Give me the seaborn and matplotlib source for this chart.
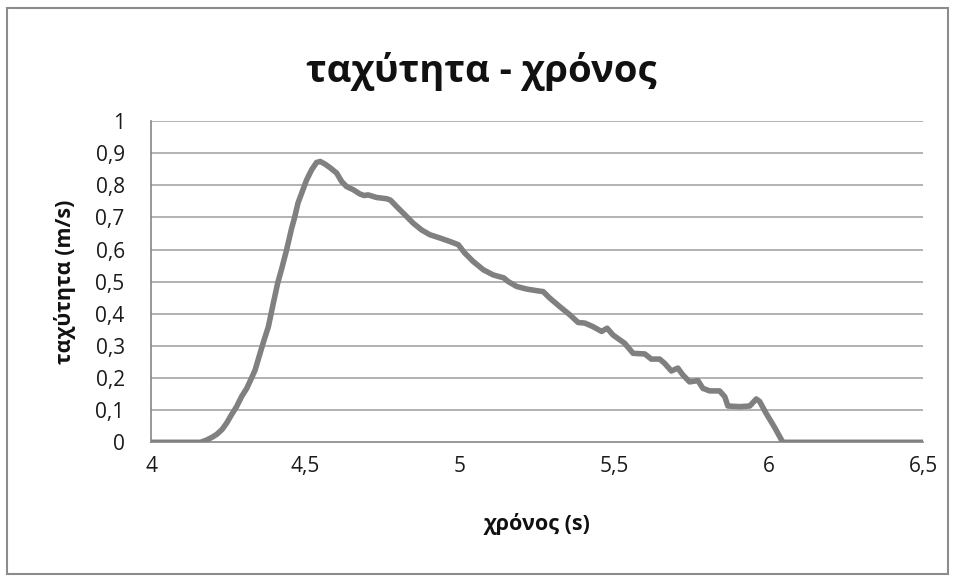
import matplotlib
matplotlib.use("Agg")
import matplotlib.pyplot as plt
import matplotlib.patches as mpatches
import seaborn as sns
import pandas as pd

# Measured speed of the cart over time
time_s = [
    4.00, 4.16, 4.18, 4.20, 4.213, 4.23, 4.245, 4.26, 4.277, 4.293,
    4.31, 4.323, 4.337, 4.353, 4.365, 4.38, 4.396, 4.41, 4.423, 4.439,
    4.455, 4.465, 4.476, 4.488, 4.504, 4.52, 4.536, 4.548, 4.563, 4.578,
    4.601, 4.617, 4.633, 4.655, 4.676, 4.69, 4.703, 4.73, 4.763, 4.775,
    4.795, 4.817, 4.849, 4.876, 4.903, 4.935, 4.968, 4.995, 5.016, 5.043,
    5.076, 5.108, 5.13, 5.142, 5.157, 5.184, 5.216, 5.248, 5.27, 5.291,
    5.324, 5.356, 5.383, 5.405, 5.431, 5.459, 5.477, 5.496, 5.534, 5.561,
    5.599, 5.62, 5.647, 5.663, 5.685, 5.706, 5.722, 5.744, 5.771, 5.787,
    5.809, 5.841, 5.858, 5.868, 5.906, 5.939, 5.96, 5.971, 5.992, 6.019,
    6.046, 6.50,
]
speed_ms = [
    0.0, 0.0, 0.007, 0.017, 0.025, 0.04, 0.06, 0.085, 0.111, 0.142,
    0.168, 0.195, 0.225, 0.277, 0.315, 0.36, 0.433, 0.495, 0.54, 0.599,
    0.665, 0.70, 0.745, 0.776, 0.817, 0.848, 0.871, 0.874, 0.866, 0.856,
    0.838, 0.812, 0.796, 0.786, 0.773, 0.768, 0.770, 0.762, 0.758, 0.754,
    0.734, 0.713, 0.682, 0.661, 0.646, 0.636, 0.625, 0.615, 0.589, 0.563,
    0.537, 0.521, 0.515, 0.512, 0.500, 0.485, 0.477, 0.472, 0.469, 0.449,
    0.422, 0.397, 0.373, 0.371, 0.360, 0.345, 0.355, 0.334, 0.308, 0.277,
    0.275, 0.259, 0.259, 0.246, 0.222, 0.231, 0.210, 0.188, 0.192, 0.168,
    0.160, 0.160, 0.142, 0.113, 0.111, 0.113, 0.135, 0.127, 0.090, 0.047,
    0.0, 0.0,
]

x_ticks = [4.0, 4.5, 5.0, 5.5, 6.0, 6.5]
x_tick_labels = ["4", "4,5", "5", "5,5", "6", "6,5"]
y_ticks = [0.0, 0.1, 0.2, 0.3, 0.4, 0.5, 0.6, 0.7, 0.8, 0.9, 1.0]
y_tick_labels = ["0", "0,1", "0,2", "0,3", "0,4", "0,5", "0,6", "0,7", "0,8", "0,9", "1"]

title_text = "ταχύτητα - χρόνος"
x_label = "χρόνος (s)"
y_label = "ταχύτητα (m/s)"

sns.set_style("white")
plt.rcParams["font.family"] = ["Open Sans", "DejaVu Sans"]

df = pd.DataFrame({"t": time_s, "v": speed_ms})

fig = plt.figure(figsize=(9.56, 5.8), dpi=100)
ax = fig.add_axes([0.158, 0.2374, 0.8075, 0.554])

# chart frame
fig.patches.append(mpatches.Rectangle(
    (7 / 956, 6 / 580), 941 / 956, 566 / 580, transform=fig.transFigure,
    fill=False, edgecolor="#8c8c8c", linewidth=1.5))

grid_color = "#a6a6a6"
for yv in y_ticks[1:]:
    ax.axhline(yv, color=grid_color, linewidth=1.2, zorder=1)

sns.lineplot(data=df, x="t", y="v", sort=False, estimator=None,
             color="#808080", linewidth=4.0, ax=ax, zorder=3)
for ln in ax.lines[-1:]:
    ln.set_solid_joinstyle("round")
    ln.set_solid_capstyle("round")

ax.set_xlim(4.0, 6.5)
ax.set_ylim(0.0, 1.0)
ax.set_xticks(x_ticks)
ax.set_xticklabels(x_tick_labels)
ax.set_yticks(y_ticks)
ax.set_yticklabels(y_tick_labels)

for side in ["top", "right"]:
    ax.spines[side].set_visible(False)
for side in ["left", "bottom"]:
    ax.spines[side].set_color("#868686")
    ax.spines[side].set_linewidth(1.2)

ax.tick_params(axis="both", which="major", direction="out", length=7,
               width=1.2, color="#868686", labelsize=15, labelcolor="#1a1a1a")
ax.tick_params(axis="x", pad=3)
ax.tick_params(axis="y", pad=12)

ax.set_xlabel(x_label, fontsize=15.5, fontweight="bold", labelpad=26, color="#111111")
ax.set_ylabel(y_label, fontsize=15.5, fontweight="bold", labelpad=14, color="#111111")

fig.text(0.503, 0.877, title_text, ha="center", va="center",
         fontsize=27.5, fontweight="bold", color="#111111")

fig.savefig("out.png", dpi=100)
